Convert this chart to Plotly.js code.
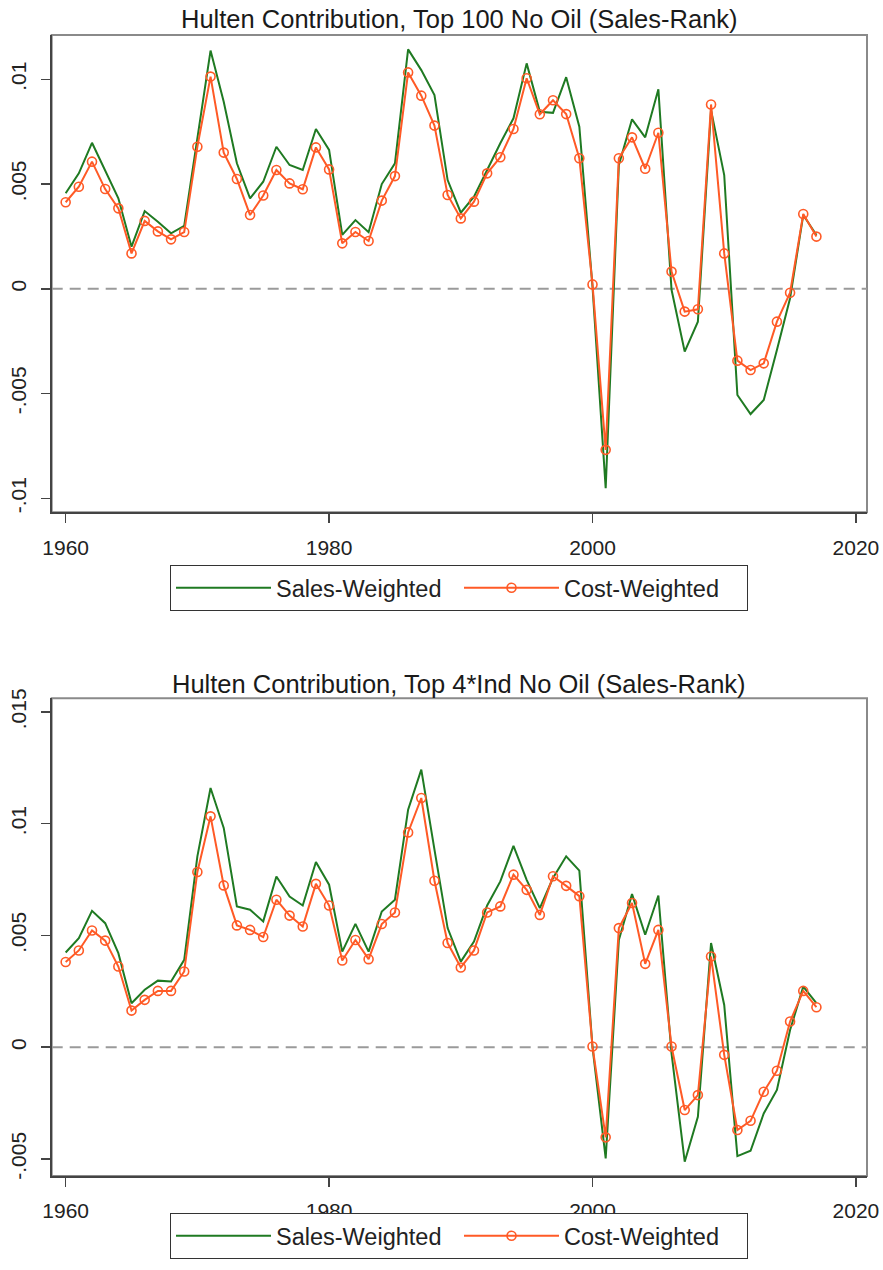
<!DOCTYPE html>
<html><head><meta charset="utf-8">
<script src="https://cdn.plot.ly/plotly-3.0.1.min.js"></script>
<style>html,body{margin:0;padding:0;background:#fff}#chart{width:883px;height:1270px}</style>
</head><body><div id="chart"></div>
<script>
const years = [1960,1961,1962,1963,1964,1965,1966,1967,1968,1969,
  1970,1971,1972,1973,1974,1975,1976,1977,1978,1979,
  1980,1981,1982,1983,1984,1985,1986,1987,1988,1989,
  1990,1991,1992,1993,1994,1995,1996,1997,1998,1999,
  2000,2001,2002,2003,2004,2005,2006,2007,2008,2009,
  2010,2011,2012,2013,2014,2015,2016,2017];

const topSales = [0.00456,0.00551,0.00697,0.00567,0.00432,0.00201,0.00371,0.00320,0.00265,0.00300,
  0.00726,0.01137,0.00893,0.00599,0.00432,0.00511,0.00678,0.00591,0.00567,0.00763,
  0.00663,0.00257,0.00328,0.00270,0.00500,0.00599,0.01143,0.01044,0.00925,0.00519,
  0.00363,0.00440,0.00567,0.00695,0.00814,0.01076,0.00845,0.00840,0.01010,0.00774,
  0.00010,-0.00952,0.00591,0.00809,0.00723,0.00952,-0.00005,-0.00300,-0.00157,0.00853,
  0.00543,-0.00507,-0.00598,-0.00531,-0.00292,-0.00045,0.00352,0.00257];

const topCost = [0.00413,0.00487,0.00607,0.00476,0.00384,0.00169,0.00324,0.00274,0.00236,0.00271,
  0.00678,0.01013,0.00650,0.00524,0.00352,0.00445,0.00567,0.00503,0.00475,0.00675,
  0.00570,0.00217,0.00271,0.00228,0.00421,0.00538,0.01033,0.00922,0.00779,0.00448,
  0.00336,0.00416,0.00551,0.00628,0.00763,0.01005,0.00833,0.00900,0.00834,0.00623,
  0.00021,-0.00769,0.00623,0.00723,0.00573,0.00745,0.00082,-0.00109,-0.00098,0.00880,
  0.00169,-0.00343,-0.00388,-0.00356,-0.00157,-0.00019,0.00357,0.00249];

const botSales = [0.00424,0.00488,0.00610,0.00555,0.00421,0.00197,0.00257,0.00298,0.00294,0.00391,
  0.00854,0.01160,0.00981,0.00630,0.00615,0.00563,0.00764,0.00674,0.00634,0.00829,
  0.00727,0.00428,0.00552,0.00428,0.00607,0.00660,0.01063,0.01242,0.00884,0.00533,
  0.00383,0.00473,0.00634,0.00742,0.00901,0.00749,0.00622,0.00757,0.00854,0.00790,
  0.00000,-0.00497,0.00480,0.00685,0.00503,0.00679,-0.00027,-0.00512,-0.00311,0.00466,
  0.00189,-0.00487,-0.00463,-0.00296,-0.00191,0.00077,0.00271,0.00197];

const botCost = [0.00381,0.00433,0.00522,0.00477,0.00361,0.00164,0.00212,0.00252,0.00252,0.00339,
  0.00784,0.01033,0.00724,0.00545,0.00525,0.00493,0.00660,0.00589,0.00540,0.00731,
  0.00634,0.00388,0.00480,0.00394,0.00551,0.00603,0.00961,0.01115,0.00745,0.00466,
  0.00357,0.00433,0.00603,0.00630,0.00772,0.00704,0.00592,0.00765,0.00722,0.00676,
  0.00003,-0.00403,0.00533,0.00645,0.00373,0.00525,0.00003,-0.00281,-0.00214,0.00406,
  -0.00034,-0.00370,-0.00329,-0.00199,-0.00105,0.00115,0.00252,0.00179];

const xTicks = [1960,1980,2000,2020];
const topYTicks = [-0.01,-0.005,0,0.005,0.01];
const topYLabels = ['-.01','-.005','0','.005','.01'];
const botYTicks = [-0.005,0,0.005,0.01,0.015];
const botYLabels = ['-.005','0','.005','.01','.015'];
const seriesNames = ['Sales-Weighted','Cost-Weighted'];
const titles = ['Hulten Contribution, Top 100 No Oil (Sales-Rank)','Hulten Contribution, Top 4*Ind No Oil (Sales-Rank)'];

const GREEN = '#1f7a22';
const ORANGE = '#ff5a26';
const FONT = 'Liberation Sans, Arial, sans-serif';

function salesTrace(y, xa, ya, lg){
  return {x: years, y: y, xaxis: xa, yaxis: ya, type:'scatter', mode:'lines',
    name: seriesNames[0], legend: lg, line:{color:GREEN, width:2}};
}
function costTrace(y, xa, ya, lg){
  return {x: years, y: y, xaxis: xa, yaxis: ya, type:'scatter', mode:'lines+markers',
    name: seriesNames[1], legend: lg, line:{color:ORANGE, width:2},
    marker:{symbol:'circle-open', size:9, color:ORANGE, line:{color:ORANGE, width:1.6}}};
}

const data = [
  salesTrace(topSales,'x','y','legend'),
  costTrace(topCost,'x','y','legend'),
  salesTrace(botSales,'x2','y2','legend2'),
  costTrace(botCost,'x2','y2','legend2')
];

const W = 883, H = 1270;
const xl = 51.7/W, xr = 867/W;
const topDom = [1-512.3/H, 1-35/H];
const botDom = [1-1176/H, 1-698.3/H];

function xAxis(anchor){
  return {domain:[xl,xr], anchor:anchor, range:[1958.94,2020.84], tickvals:xTicks,
    ticktext: xTicks.map(String), showgrid:false, zeroline:false,
    showline:true, linecolor:'#444', linewidth:2, ticks:'outside', ticklen:9,
    tickwidth:1.5, tickcolor:'#444', ticklabelstandoff:6,
    tickfont:{family:FONT, size:21, color:'#222'}};
}
function yAxis(anchor, dom, range, tv, tt){
  return {domain:dom, anchor:anchor, range:range, tickvals:tv, ticktext:tt,
    showgrid:false, zeroline:false, showline:true, linecolor:'#444', linewidth:2,
    ticks:'outside', ticklen:9, tickwidth:1.5, tickcolor:'#444', tickangle:-90,
    ticklabelstandoff:6, tickfont:{family:FONT, size:21, color:'#222'}};
}

function legendCfg(ytop){
  return {orientation:'h', x:(170+748)/2/W, xanchor:'center', y:ytop, yanchor:'top',
    bordercolor:'#333', borderwidth:1, bgcolor:'#fff',
    font:{family:FONT, size:23.5, color:'#222'}, entrywidth:178, itemwidth:95,
    tracegroupgap:0};
}

const layout = {
  width:W, height:H, paper_bgcolor:'#fff', plot_bgcolor:'#fff',
  margin:{l:0,r:0,t:0,b:0,autoexpand:false},
  showlegend:true,
  xaxis: xAxis('y'),
  yaxis: yAxis('x', topDom, [-0.01067,0.012115], topYTicks, topYLabels),
  xaxis2: xAxis('y2'),
  yaxis2: yAxis('x2', botDom, [-0.00576,0.01561], botYTicks, botYLabels),
  legend: legendCfg(1-565/H),
  legend2: legendCfg(1-1213/H),
  shapes: [
    {type:'rect', xref:'x domain', yref:'y domain', x0:0, x1:1, y0:0, y1:1, line:{color:'#8a8a8a', width:2}, layer:'below'},
    {type:'rect', xref:'x2 domain', yref:'y2 domain', x0:0, x1:1, y0:0, y1:1, line:{color:'#8a8a8a', width:2}, layer:'below'},
    {type:'line', xref:'x domain', yref:'y', x0:0, x1:1, y0:0, y1:0, line:{color:'#9a9a9a', width:2, dash:'11px,7px'}, layer:'below'},
    {type:'line', xref:'x2 domain', yref:'y2', x0:0, x1:1, y0:0, y1:0, line:{color:'#9a9a9a', width:2, dash:'11px,7px'}, layer:'below'}
  ],
  annotations: [
    {text:titles[0], xref:'paper', yref:'paper', x:(xl+xr)/2, y:1-19/H, xanchor:'center', yanchor:'middle', showarrow:false, font:{family:FONT, size:25.5, color:'#1a1a1a'}},
    {text:titles[1], xref:'paper', yref:'paper', x:(xl+xr)/2, y:1-684/H, xanchor:'center', yanchor:'middle', showarrow:false, font:{family:FONT, size:25.5, color:'#1a1a1a'}}
  ]
};

Plotly.newPlot('chart', data, layout, {staticPlot:true, displayModeBar:false});
</script>
</body></html>
